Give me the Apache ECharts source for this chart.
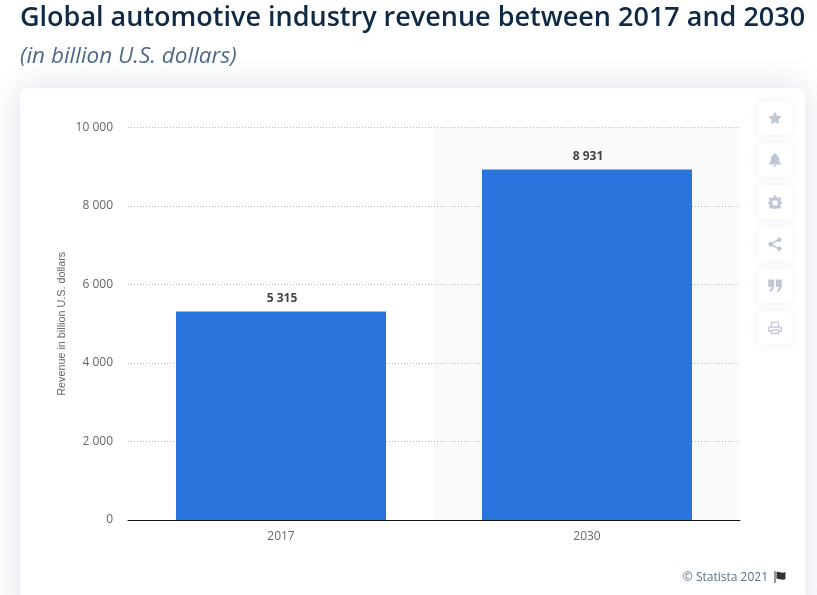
<!DOCTYPE html>
<html>
<head>
<meta charset="utf-8">
<style>html,body{margin:0;padding:0;background:#fff;overflow:hidden}#c{width:817px;height:595px}</style>
<script src="https://cdn.jsdelivr.net/npm/echarts@6/dist/echarts.min.js"></script>
</head>
<body>
<div id="c"></div>
<script>
const titleText = 'Global automotive industry revenue between 2017 and 2030';
const subtitleText = '(in billion U.S. dollars)';
const yAxisName = 'Revenue in billion U.S. dollars';
const sourceText = '© Statista 2021';
const categories = ['2017', '2030'];
const revenue = [5315, 8931];

const fmt = v => String(v).replace(/\B(?=(\d{3})+$)/g, ' ');
const font = '"Open Sans", sans-serif';
const ICON = '#bfc7d4';

const buttonTops = [101, 143, 185, 227, 269, 311];
const iconPaths = [
  'M8 0 L10.4 5.2 L16 5.9 L11.9 9.7 L13 15.3 L8 12.5 L3 15.3 L4.1 9.7 L0 5.9 L5.6 5.2 Z',
  'M8 0 C9 0 9.6 .6 9.6 1.5 C12 2.2 13 4.2 13 6.8 C13 9.6 14 11 15.4 12.2 L15.4 13.2 L.6 13.2 L.6 12.2 C2 11 3 9.6 3 6.8 C3 4.2 4 2.2 6.4 1.5 C6.4 .6 7 0 8 0 Z M6 14 L10 14 C10 15.2 9 16 8 16 C7 16 6 15.2 6 14 Z',
  'M6.6 0 H9.4 L9.8 2.2 L11.7 3 L13.6 1.8 L15.5 3.7 L14.2 5.6 L15 7.4 L16 7.8 V10.2 L14.9 10.6 L14.1 12.4 L15.4 14.2 L13.5 16 L11.7 14.8 L9.8 15.6 L9.4 16 H6.6 L6.2 15.6 L4.3 14.8 L2.5 16 L.6 14.2 L1.9 12.4 L1.1 10.6 L0 10.2 V7.8 L1 7.4 L1.8 5.6 L.5 3.7 L2.4 1.8 L4.3 3 L6.2 2.2 Z M8 5.6 A3.2 3.2 0 1 0 8 12 A3.2 3.2 0 1 0 8 5.6 Z',
  'M13 0 A2.7 2.7 0 1 1 10.9 4.4 L6 7 A2.8 2.8 0 0 1 6 9 L10.9 11.6 A2.7 2.7 0 1 1 10.3 13.2 L5 10.4 A3 3 0 1 1 5 5.6 L10.3 2.8 A2.7 2.7 0 0 1 13 0 Z',
  'M0 0 H7 V7 C7 11 5 14 2 15 L1 13 C3 12 3.6 10.5 3.7 9 H0 Z M9 0 H16 V7 C16 11 14 14 11 15 L10 13 C12 12 12.6 10.5 12.7 9 H9 Z',
  'M3 0 H11 L13 2 V6 H15 C15.6 6 16 6.4 16 7 V12.5 H13 V15 H3 V12.5 H0 V7 C0 6.4 .4 6 1 6 H3 Z M4.5 1.5 V6 H11.5 V2.8 L10.3 1.5 Z M1.5 7.5 V11 H3 V9.5 H13 V11 H14.5 V7.5 Z M4.5 11 V13.5 H11.5 V11 Z'
];
iconPaths.forEach((p, i) => echarts.graphic.registerShape('icon' + i, echarts.graphic.extendPath(p, {})));
echarts.graphic.registerShape('flag', echarts.graphic.extendPath('M0 0 H1 V12 H0 Z M2 1 C5 0 7 3 11 1 V8 C7 10 5 7 2 8 Z', {}));

const iconScale = 0.84;
const iconLeft = 768.3;
const buttons = buttonTops.flatMap((t, i) => [
  {type:'rect', z:1, silent:true, shape:{x:758, y:t, width:34, height:34, r:6},
   style:{fill:'#fff', shadowBlur:10, shadowColor:'rgba(60,80,120,0.09)'}},
  {type:'icon' + i, z:2, silent:true, x:iconLeft, y:t + 10.5, scaleX:iconScale, scaleY:iconScale,
   style:{fill:ICON}}
]);

const chart = echarts.init(document.getElementById('c'), null, {renderer:'canvas'});
chart.setOption({
  animation:false,
  backgroundColor:'#fff',
  title:[
    {text:titleText, left:15, top:0, textStyle:{fontFamily:font, fontSize:27, fontWeight:600, color:'#0f2a46'}},
    {text:subtitleText, left:15, top:40, textStyle:{fontFamily:font, fontSize:22.5, fontWeight:400, fontStyle:'italic', color:'#4e6a8a'}}
  ],
  grid:{left:128, right:77, top:127.5, bottom:75, containLabel:false},
  xAxis:{
    type:'category', data:categories, z:1,
    axisLine:{show:true, lineStyle:{color:'#111', width:1}},
    axisTick:{show:false},
    axisLabel:{color:'#666', fontFamily:font, fontSize:12, margin:11},
    splitArea:{show:true, areaStyle:{color:['rgba(0,0,0,0)','#fafafa']}}
  },
  yAxis:{
    type:'value', min:0, max:10000, interval:2000, z:3,
    name:yAxisName, nameLocation:'middle', nameGap:60, nameMoveOverlap:false,
    nameTextStyle:{color:'#666', fontFamily:'"Liberation Sans", sans-serif', fontSize:10.8},
    axisLine:{show:false}, axisTick:{show:false},
    axisLabel:{color:'#666', fontFamily:font, fontSize:12, margin:15, padding:[7,0,0,0], formatter:fmt},
    splitLine:{showMinLine:false, lineStyle:{color:'#bbb', type:[1,2], width:1}}
  },
  series:[{
    type:'bar', data:revenue, barWidth:210, z:4,
    itemStyle:{color:'#2874dc'},
    label:{show:true, position:'top', distance:7, offset:[1,0], color:'#444', fontFamily:font, fontSize:12, fontWeight:700,
      formatter:p => fmt(p.value)}
  }],
  graphic:[
    {type:'rect', z:-9, silent:true, shape:{x:20, y:88, width:785, height:530, r:8},
     style:{fill:'#fff', shadowBlur:32, shadowColor:'rgba(50,70,120,0.18)'}},
    ...buttons,
    {type:'text', z:5, silent:true, style:{text:sourceText, x:768, y:577.5, align:'right', verticalAlign:'middle',
      fill:'#5b7089', font:'12px "Open Sans", sans-serif'}},
    {type:'flag', z:5, silent:true, x:774.5, y:571, style:{fill:'#333'}}
  ]
});
</script>
</body>
</html>
